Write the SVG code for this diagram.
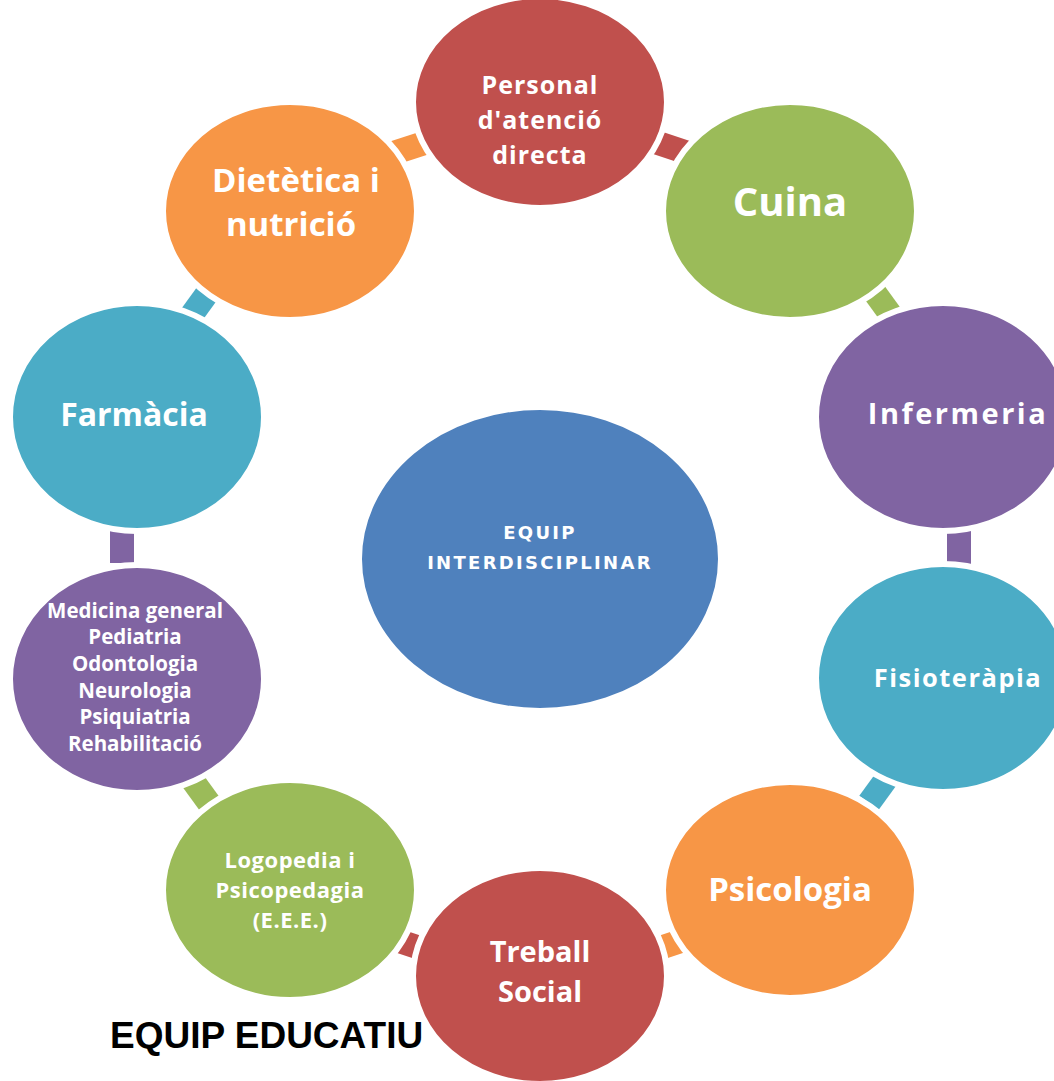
<svg xmlns="http://www.w3.org/2000/svg" xmlns:xlink="http://www.w3.org/1999/xlink" width="1054" height="1081" viewBox="0 0 1054 1081">
<defs>
<style>
.n{stroke:#fff;stroke-width:6}
.t{fill:#fff;font-family:"Open Sans","Noto Sans","DejaVu Sans",sans-serif;font-weight:bold;text-anchor:middle}
.ct{fill:#fff;font-family:"DejaVu Sans",sans-serif;font-weight:bold;text-anchor:middle}
.red{fill:#C0504D}.green{fill:#9BBB59}.purple{fill:#8064A2}.cyan{fill:#4BACC6}.orange{fill:#F79646}.blue{fill:#4F81BD}
</style>
<rect id="c" x="-12" y="-17" width="24" height="34"/>
</defs>
<rect width="1054" height="1081" fill="#fff"/>
<g id="connectors">
<use xlink:href="#c" class="red" transform="translate(673,148) rotate(-71.5)"/>
<use xlink:href="#c" class="green" transform="translate(880,300) rotate(-36)"/>
<use xlink:href="#c" class="purple" transform="translate(959,547)"/>
<use xlink:href="#c" class="cyan" transform="translate(879,789) rotate(36)"/>
<use xlink:href="#c" class="orange" transform="translate(672,944) rotate(71.7)"/>
<use xlink:href="#c" class="red" transform="translate(408,944) rotate(108.3)"/>
<use xlink:href="#c" class="green" transform="translate(201,792) rotate(144)"/>
<use xlink:href="#c" class="purple" transform="translate(122,546) rotate(180)"/>
<use xlink:href="#c" class="cyan" transform="translate(201,302) rotate(-144)"/>
<use xlink:href="#c" class="orange" transform="translate(409,148) rotate(-108)"/>
</g>
<g id="center">
<ellipse class="n blue" cx="540" cy="559" rx="181" ry="152"/>
<text class="ct" font-size="18" letter-spacing="2.3"><tspan x="540" y="539">EQUIP</tspan><tspan x="540" y="569">INTERDISCIPLINAR</tspan></text>
</g>
<g id="personal">
<ellipse class="n red" cx="540" cy="102" rx="127" ry="106"/>
<text class="t" font-size="25" letter-spacing="1"><tspan x="540" y="94">Personal</tspan><tspan x="540" y="129">d'atenció</tspan><tspan x="540" y="164">directa</tspan></text>
</g>
<g id="cuina">
<ellipse class="n green" cx="790" cy="211" rx="127" ry="109"/>
<text class="t" font-size="40" x="790" y="216">Cuina</text>
</g>
<g id="infermeria">
<ellipse class="n purple" cx="943" cy="417" rx="127" ry="114"/>
<text class="t" font-size="29" letter-spacing="2.5" x="958" y="424">Infermeria</text>
</g>
<g id="fisioterapia">
<ellipse class="n cyan" cx="943" cy="678" rx="127" ry="114"/>
<text class="t" font-size="25.5" letter-spacing="1.5" x="958" y="687">Fisioteràpia</text>
</g>
<g id="psicologia">
<ellipse class="n orange" cx="790" cy="890" rx="127" ry="108"/>
<text class="t" font-size="33" x="790" y="901">Psicologia</text>
</g>
<g id="treball">
<ellipse class="n red" cx="540" cy="976" rx="127" ry="108"/>
<text class="t" font-size="29"><tspan x="540" y="962">Treball</tspan><tspan x="540" y="1002">Social</tspan></text>
</g>
<g id="logopedia">
<ellipse class="n green" cx="290" cy="890" rx="127" ry="110"/>
<text class="t" font-size="22" letter-spacing="0.5"><tspan x="290" y="868">Logopedia i</tspan><tspan x="290" y="898">Psicopedagia</tspan><tspan x="290" y="928">(E.E.E.)</tspan></text>
</g>
<g id="medicina">
<ellipse class="n purple" cx="137" cy="679" rx="127" ry="114"/>
<text class="t" font-size="20.5"><tspan x="135" y="618">Medicina general</tspan><tspan x="135" y="644">Pediatria</tspan><tspan x="135" y="671">Odontologia</tspan><tspan x="135" y="698">Neurologia</tspan><tspan x="135" y="724">Psiquiatria</tspan><tspan x="135" y="751">Rehabilitació</tspan></text>
</g>
<g id="farmacia">
<ellipse class="n cyan" cx="137" cy="417" rx="127" ry="114"/>
<text class="t" font-size="32" x="134" y="426">Farmàcia</text>
</g>
<g id="dietetica">
<ellipse class="n orange" cx="290" cy="211" rx="127" ry="109"/>
<text class="t" font-size="33"><tspan x="296" y="192">Dietètica i</tspan><tspan x="291" y="236">nutrició</tspan></text>
</g>
<text x="110" y="1048" font-family="'Liberation Sans',Arial,sans-serif" font-weight="bold" font-size="37" fill="#000">EQUIP EDUCATIU</text>
</svg>
